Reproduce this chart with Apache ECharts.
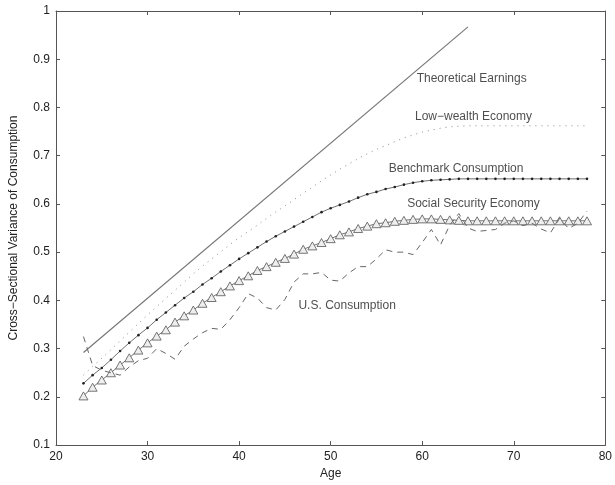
<!DOCTYPE html>
<html>
<head>
<meta charset="utf-8">
<script src="https://cdn.jsdelivr.net/npm/echarts@6/dist/echarts.min.js"></script>
<style>html,body{margin:0;padding:0;background:#fff}#c{width:615px;height:485px}</style>
</head>
<body>
<div id="c"></div>
<script>
const ages = [23,24,25,26,27,28,29,30,31,32,33,34,35,36,37,38,39,40,41,42,43,44,45,46,47,48,49,50,51,52,53,54,55,56,57,58,59,60,61,62,63,64,65,66,67,68,69,70,71,72,73,74,75,76,77,78];
const earningsAges = [23, 65];
const earnings = [0.292, 0.967];
const benchmark = [0.228,0.245,0.260,0.277,0.295,0.312,0.328,0.343,0.360,0.375,0.390,0.405,0.418,0.433,0.446,0.460,0.473,0.486,0.498,0.510,0.522,0.533,0.543,0.553,0.563,0.573,0.583,0.591,0.598,0.605,0.613,0.620,0.625,0.631,0.635,0.640,0.644,0.647,0.649,0.650,0.651,0.652,0.652,0.652,0.652,0.652,0.652,0.652,0.652,0.652,0.652,0.652,0.652,0.652,0.652,0.652];
const lowWealth = [0.245,0.263,0.280,0.298,0.316,0.334,0.352,0.370,0.387,0.404,0.421,0.438,0.455,0.471,0.486,0.501,0.516,0.530,0.543,0.556,0.570,0.583,0.596,0.609,0.622,0.635,0.648,0.660,0.672,0.683,0.694,0.704,0.713,0.721,0.729,0.737,0.743,0.749,0.753,0.757,0.760,0.761,0.762,0.762,0.762,0.762,0.762,0.762,0.762,0.762,0.762,0.762,0.762,0.762,0.762,0.762];
const socialSecurity = [0.202,0.220,0.235,0.250,0.266,0.281,0.297,0.312,0.326,0.339,0.355,0.368,0.380,0.394,0.406,0.418,0.430,0.441,0.451,0.462,0.470,0.479,0.487,0.496,0.506,0.513,0.520,0.528,0.536,0.542,0.549,0.554,0.559,0.561,0.564,0.566,0.568,0.569,0.569,0.568,0.567,0.566,0.565,0.565,0.565,0.565,0.565,0.565,0.565,0.565,0.565,0.565,0.565,0.565,0.565,0.565];
const usConsumption = [0.325,0.265,0.255,0.250,0.245,0.262,0.275,0.280,0.300,0.290,0.278,0.305,0.320,0.333,0.342,0.340,0.360,0.385,0.414,0.405,0.385,0.380,0.402,0.438,0.455,0.455,0.458,0.442,0.440,0.457,0.470,0.470,0.486,0.505,0.500,0.500,0.495,0.520,0.547,0.515,0.556,0.580,0.550,0.543,0.545,0.547,0.560,0.565,0.555,0.560,0.548,0.540,0.570,0.549,0.560,0.585];
const xTicks = [20,30,40,50,60,70,80];
const yTicks = [0.1,0.2,0.3,0.4,0.5,0.6,0.7,0.8,0.9,1];
const annotations = [
  {name:'Theoretical Earnings', at:[65.4, 0.859]},
  {name:'Low\u2212wealth Economy', at:[65.6, 0.781]},
  {name:'Benchmark Consumption', at:[63.7, 0.674]},
  {name:'Social Security Economy', at:[65.6, 0.600]},
  {name:'U.S. Consumption', at:[51.8, 0.389]}
];

const pair = (xs, ys) => xs.map((x, i) => [x, ys[i]]);
const font = 'Liberation Sans, Arial, Helvetica, sans-serif';
const axisColor = '#555';
const lineColor = '#707070';

const chart = echarts.init(document.getElementById('c'), null, {renderer: 'canvas'});
const baseX = {
  type: 'value', min: xTicks[0], max: xTicks[xTicks.length-1], interval: 10,
  axisLine: {show: true, lineStyle: {color: axisColor, width: 1}},
  axisTick: {show: true, inside: true, length: 4, lineStyle: {color: axisColor}},
  splitLine: {show: false}
};
const baseY = {
  type: 'value', min: yTicks[0], max: yTicks[yTicks.length-1], interval: 0.1,
  axisLine: {show: true, lineStyle: {color: axisColor, width: 1}},
  axisTick: {show: true, inside: true, length: 4, lineStyle: {color: axisColor}},
  splitLine: {show: false}
};
chart.setOption({
  animation: false,
  backgroundColor: '#fff',
  grid: {left: 55, right: 9, top: 11, bottom: 35, containLabel: false},
  xAxis: [
    Object.assign({}, baseX, {
      position: 'bottom',
      name: 'Age', nameLocation: 'middle', nameGap: 22,
      nameTextStyle: {fontFamily: font, fontSize: 12, color: '#222'},
      axisLabel: {show: true, margin: 6, fontFamily: font, fontSize: 12, color: '#222'}
    }),
    Object.assign({}, baseX, {position: 'top', axisLabel: {show: false}})
  ],
  yAxis: [
    Object.assign({}, baseY, {
      position: 'left',
      name: 'Cross\u2212Sectional Variance of Consumption', nameLocation: 'middle', nameGap: 36,
      nameTextStyle: {fontFamily: font, fontSize: 12, color: '#222'},
      axisLabel: {show: true, margin: 6, fontFamily: font, fontSize: 12, color: '#222',
        formatter: v => String(Math.round(v * 10) / 10)}
    }),
    Object.assign({}, baseY, {position: 'right', axisLabel: {show: false}})
  ],
  series: [
    {
      name: 'Theoretical Earnings', type: 'line', data: pair(earningsAges, earnings),
      symbol: 'none', lineStyle: {color: '#777', width: 1.2}, z: 3
    },
    {
      name: 'Low-wealth Economy', type: 'line', data: pair(ages, lowWealth),
      symbol: 'none', lineStyle: {color: '#8a8a8a', width: 1, type: [1, 5]}, z: 3
    },
    {
      name: 'Benchmark Consumption', type: 'line', data: pair(ages, benchmark),
      symbol: 'circle', symbolSize: 2.6, showAllSymbol: true,
      itemStyle: {color: '#222', borderWidth: 0},
      lineStyle: {color: lineColor, width: 1}, z: 4
    },
    {
      name: 'Social Security Economy', type: 'line', data: pair(ages, socialSecurity),
      symbol: 'triangle', symbolSize: [9, 8], showAllSymbol: true,
      itemStyle: {color: '#eeeeee', borderColor: '#666', borderWidth: 0.9},
      lineStyle: {color: lineColor, width: 1}, z: 4
    },
    {
      name: 'U.S. Consumption', type: 'line', data: pair(ages, usConsumption),
      symbol: 'none', lineStyle: {color: '#666', width: 1, type: [6, 5]}, z: 5
    },
    {
      name: 'labels', type: 'scatter', symbolSize: 0, silent: true, z: 6,
      data: annotations.map(a => ({name: a.name, value: a.at})),
      label: {show: true, position: 'inside', formatter: p => p.name,
        fontFamily: font, fontSize: 12, color: '#222'}
    }
  ]
});
</script>
</body>
</html>
